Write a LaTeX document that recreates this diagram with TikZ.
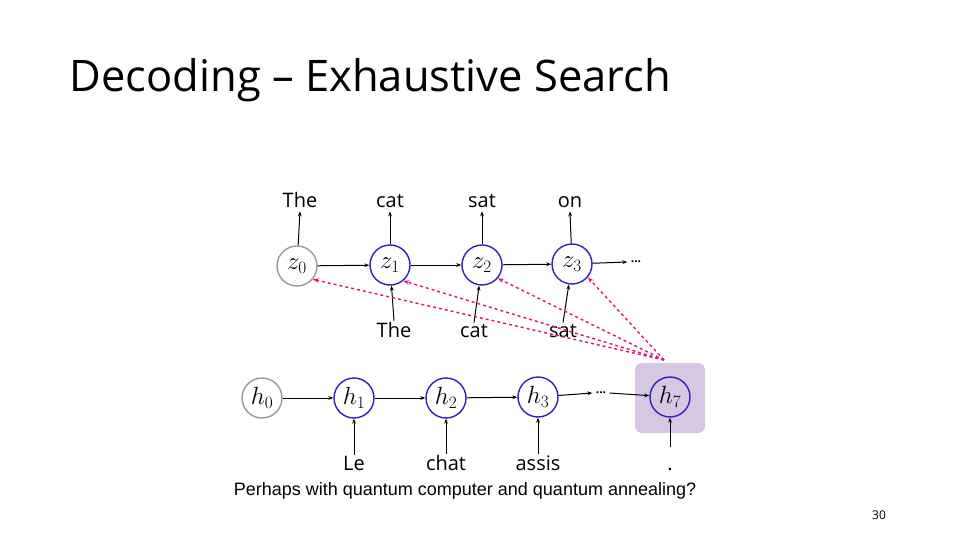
\documentclass[tikz,border=0pt]{standalone}
\usepackage{fontspec}
\setmainfont{Open Sans}
\newfontfamily\arial{Liberation Sans}
\usetikzlibrary{arrows.meta}
\definecolor{cb}{RGB}{50,30,190}
\definecolor{bx}{RGB}{214,200,226}
\begin{document}
\begin{tikzpicture}[x=1pt,y=-1pt,
  cell/.style={circle,draw=cb,line width=1.4pt,minimum size=40pt,inner sep=0pt,font=\fontsize{25}{26}\selectfont},
  cell0/.style={cell,draw=gray!80},
  lbl/.style={font=\fontsize{20}{22}\selectfont,inner sep=1pt,anchor=base},
  ar/.style={-{Stealth[length=5pt]},line width=1pt},
  att/.style={-{Stealth[length=6pt]},dashed,draw=magenta!80!purple,line width=1.4pt}]
\useasboundingbox (0,0) rectangle (960,540);
\node[anchor=west,font=\fontsize{43.5}{46}\selectfont] (title) at (66,80) {Decoding -- Exhaustive Search};
\fill[bx,rounded corners=7pt] (635,363) rectangle (705,433);
\node[cell0] (z0) at (297,266) {$z_0$};
\node[cell] (z1) at (390,265) {$z_1$};
\node[cell] (z2) at (482,265) {$z_2$};
\node[cell] (z3) at (572,264) {$z_3$};
\node[font=\fontsize{12}{12}\selectfont\bfseries] (zd) at (636,262) {...};
\node[cell0] (h0) at (262,398) {$h_0$};
\node[cell] (h1) at (354,398) {$h_1$};
\node[cell] (h2) at (446,398) {$h_2$};
\node[cell] (h3) at (538,397) {$h_3$};
\node[font=\fontsize{12}{12}\selectfont\bfseries] (hd) at (601,393) {...};
\node[cell] (h7) at (670,397) {$h_7$};
\foreach \n/\t/\x in {o0/The/300,o1/cat/390,o2/sat/482,o3/on/570}{\node[lbl] (\n) at (\x,207) {\t};}
\foreach \n/\t/\x in {i1/The/394,i2/cat/474,i3/sat/563}{\node[lbl] (\n) at (\x,337) {\t};}
\foreach \n/\t/\x in {e1/Le/354,e2/chat/446,e3/assis/538,e7/./670}{\node[lbl] (\n) at (\x,470) {\t};}
\foreach \a/\b in {z0/o0,z1/o1,z2/o2,z3/o3}{\draw[ar] (\a) -- ([yshift=-3pt]\b.south);}
\foreach \a/\b in {i1/z1,i2/z2,i3/z3,e1/h1,e2/h2,e3/h3}{\draw[ar] (\a.north) -- (\b);}
\coordinate (e7t) at (670,447);
\draw[ar] (e7t) -- (h7);
\draw[ar] (z0) -- (z1); \draw[ar] (z1) -- (z2); \draw[ar] (z2) -- (z3); \draw[ar] (z3) -- (zd.west);
\draw[ar] (h0) -- (h1); \draw[ar] (h1) -- (h2); \draw[ar] (h2) -- (h3); \draw[ar] (h3) -- (hd.west);
\draw[ar] (hd.east) -- (h7);
\coordinate (src) at (664,360);
\draw[att] (src) -- (z0.-40);
\draw[att] (src) -- (z1.-50);
\draw[att] (src) -- (z2.-40);
\draw[att] (src) -- (z3.-40);
\node[font=\arial\fontsize{18}{20}\selectfont] (cap) at (465,491) {Perhaps with quantum computer and quantum annealing?};
\node[font=\fontsize{12}{14}\selectfont] (pg) at (879,515) {30};
\end{tikzpicture}
\end{document}
